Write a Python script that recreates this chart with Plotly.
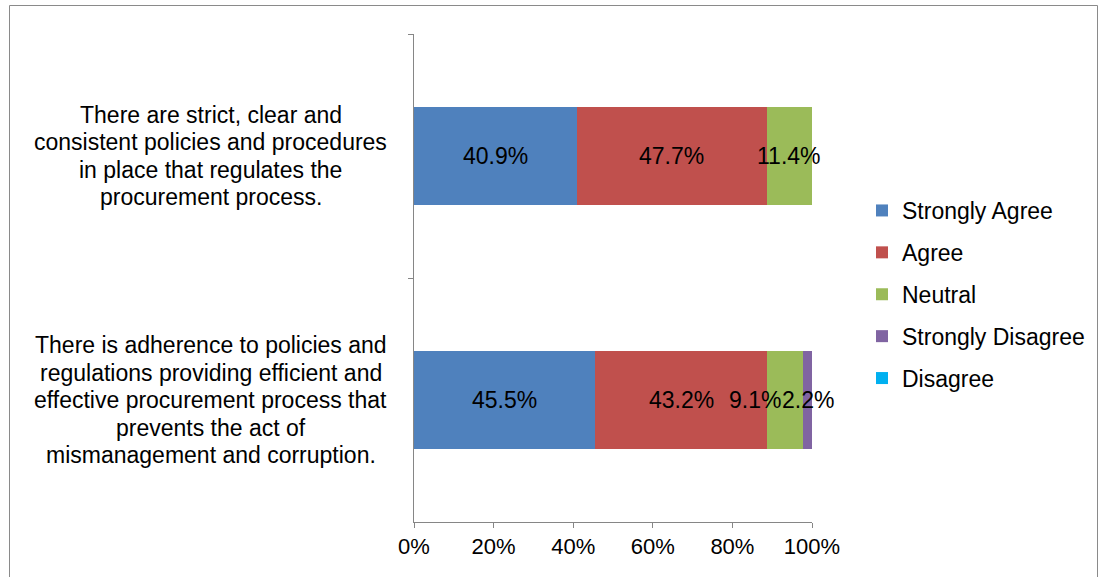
import plotly.graph_objects as go

# Survey statements (top to bottom) and response shares in percent
statements = [
    "There are strict, clear and<br>consistent policies and procedures<br>in place that regulates the<br>procurement process.",
    "There is adherence to policies and<br>regulations providing efficient and<br>effective procurement process that<br>prevents the act of<br>mismanagement and corruption.",
]
responses = ["Strongly Agree", "Agree", "Neutral", "Strongly Disagree", "Disagree"]
strongly_agree = [40.9, 45.5]
agree = [47.7, 43.2]
neutral = [11.4, 9.1]
strongly_disagree = [0.0, 2.2]
disagree = [0.0, 0.0]
x_ticks = [0, 20, 40, 60, 80, 100]
x_tick_labels = ["0%", "20%", "40%", "60%", "80%", "100%"]

series = [strongly_agree, agree, neutral, strongly_disagree, disagree]
colors = ["#4F81BD", "#C0504D", "#9BBB59", "#8064A2", "#00B0F0"]

W, H = 1106, 577
L, R, T, B = 414, 294, 34, 55
pw, ph = W - L - R, H - T - B

FONT = "Liberation Sans, Arial, sans-serif"
AXIS_COLOR = "#868686"
LABEL_SIZE = 23
CAT_SIZE = 23
LINE_GAP = 27.5

fig = go.Figure()
for name, vals, col in zip(responses, series, colors):
    fig.add_trace(go.Bar(
        y=list(range(len(statements))),
        x=vals,
        orientation="h",
        name=name,
        legendgroup=name,
        marker=dict(color=col, line=dict(width=0)),
        width=0.4,
        hoverinfo="skip",
    ))


def text_width(s, size):
    # rough Arial advance widths
    w = {".": 0.278, "%": 0.889}
    return sum(w.get(c, 0.556) for c in s) * size


# Value labels at segment centres; a label that would run into the
# next one on its right is nudged left
for row in range(len(statements)):
    start = 0.0
    labels = []
    for vals in series:
        v = vals[row]
        if v > 0:
            labels.append([start + v / 2, f"{v:.1f}%", 0.0])
        start += v
    for k in range(len(labels) - 2, -1, -1):
        cur, nxt = labels[k], labels[k + 1]
        cur_px = cur[0] / 100 * pw + cur[2]
        nxt_px = nxt[0] / 100 * pw + nxt[2]
        overlap = (cur_px + text_width(cur[1], LABEL_SIZE) / 2) - (nxt_px - text_width(nxt[1], LABEL_SIZE) / 2)
        if overlap > 0:
            cur[2] -= overlap
    for xc, txt, shift in labels:
        fig.add_annotation(
            x=xc, xref="x", y=row, yref="y", xshift=shift,
            text=txt, showarrow=False, xanchor="center", yanchor="middle",
            font=dict(family=FONT, size=LABEL_SIZE, color="black"),
        )

# Category labels, one annotation per line, centred left of the axis
for i, s in enumerate(statements):
    lines = s.split("<br>")
    n = len(lines)
    for j, line in enumerate(lines):
        fig.add_annotation(
            x=(211 - L) / pw, xref="paper", y=i, yref="y",
            yshift=-(j - (n - 1) / 2) * LINE_GAP,
            text=line, showarrow=False, xanchor="center", yanchor="middle",
            font=dict(family=FONT, size=CAT_SIZE, color="black"),
        )

# Outer chart frame
fig.add_shape(
    type="rect", xref="paper", yref="paper",
    x0=(9.5 - L) / pw, x1=(1097.5 - L) / pw,
    y0=-(600 - T - ph) / ph, y1=1 + (T - 5.5) / ph,
    line=dict(color="#8a8a8a", width=1), fillcolor="rgba(0,0,0,0)", layer="below",
)

fig.update_layout(
    width=W, height=H, autosize=False,
    margin=dict(l=L, r=R, t=T, b=B),
    paper_bgcolor="white", plot_bgcolor="white",
    barmode="stack",
    font=dict(family=FONT, size=22, color="black"),
    showlegend=True,
    legend=dict(
        x=(862 - L) / pw, xanchor="left",
        y=1 - (189 - T) / ph, yanchor="top",
        traceorder="grouped", tracegroupgap=9,
        font=dict(family=FONT, size=23, color="black"),
        bgcolor="rgba(0,0,0,0)", itemclick=False,
    ),
    xaxis=dict(
        range=[0, 100], tickvals=x_ticks, ticktext=x_tick_labels,
        showgrid=False, zeroline=False,
        showline=True, linecolor=AXIS_COLOR, linewidth=1,
        ticks="outside", ticklen=5, tickcolor=AXIS_COLOR,
        tickfont=dict(family=FONT, size=22, color="black"),
    ),
    yaxis=dict(
        type="category", range=[len(statements) - 0.5, -0.5],
        showgrid=False, zeroline=False, showticklabels=False,
        showline=True, linecolor=AXIS_COLOR, linewidth=1,
        ticks="outside", ticklen=5, tickcolor=AXIS_COLOR, tickson="boundaries",
    ),
)

fig.write_html("out.html")
